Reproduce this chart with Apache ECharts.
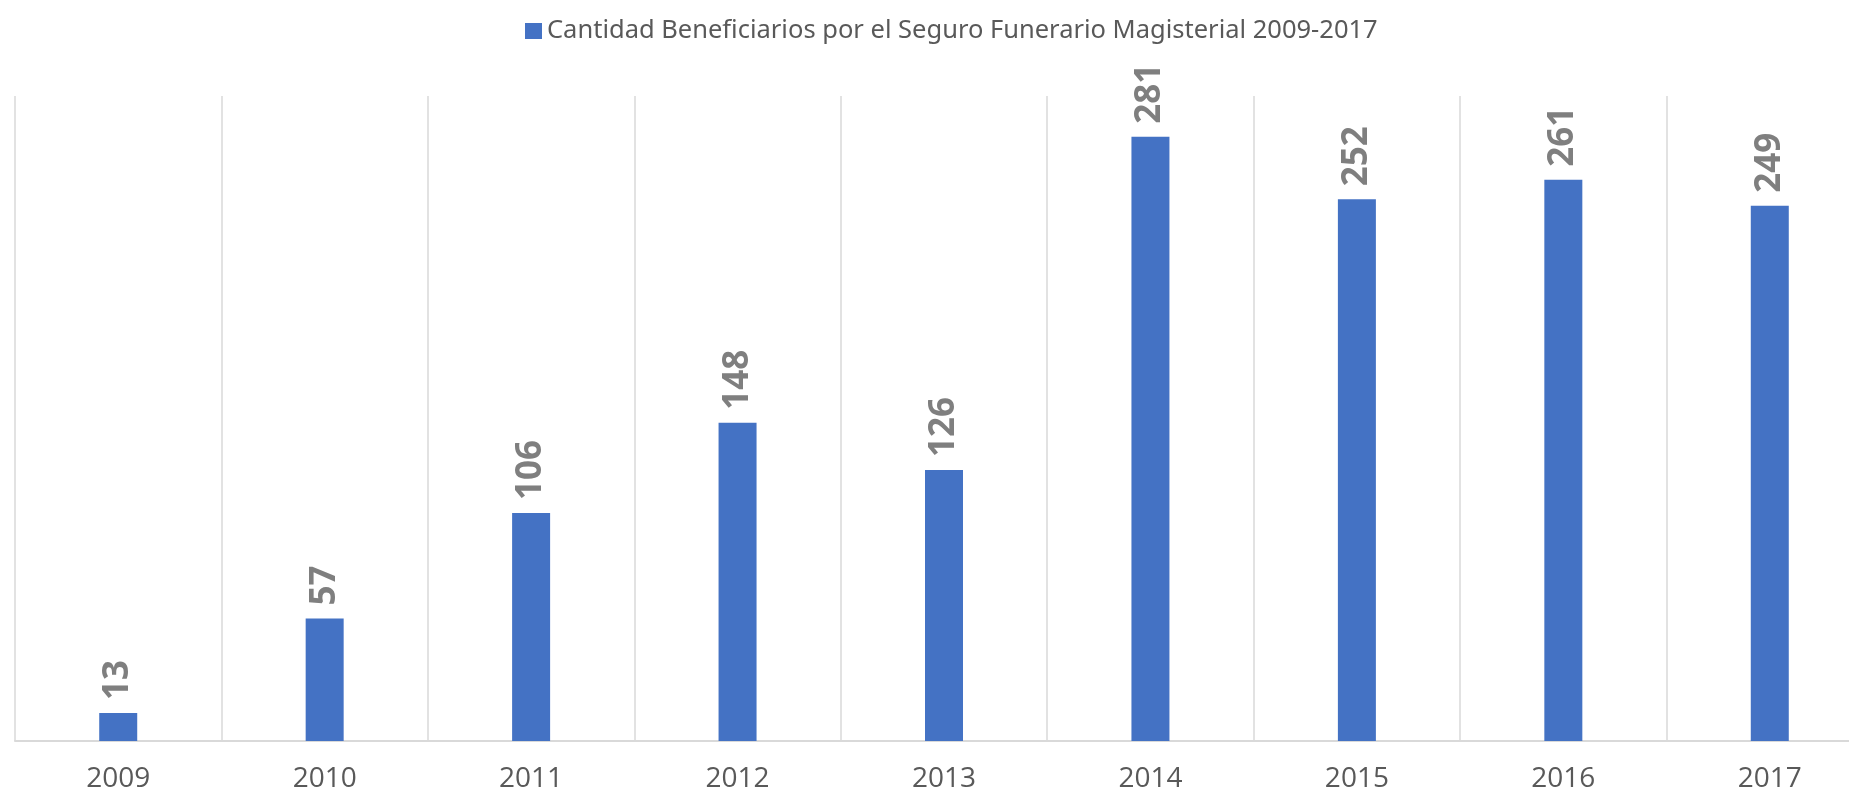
<!DOCTYPE html>
<html>
<head>
<meta charset="utf-8">
<script src="https://cdn.jsdelivr.net/npm/echarts@6/dist/echarts.min.js"></script>
<style>html,body{margin:0;padding:0;background:#fff}#c{width:1849px;height:790px}</style>
</head>
<body>
<div id="c"></div>
<script>
const categories = ['2009','2010','2011','2012','2013','2014','2015','2016','2017'];
const values = [13, 57, 106, 148, 126, 281, 252, 261, 249];
const seriesName = 'Cantidad Beneficiarios por el Seguro Funerario Magisterial 2009-2017';

const chart = echarts.init(document.getElementById('c'), null, {renderer: 'canvas'});
chart.setOption({
  animation: false,
  backgroundColor: '#ffffff',
  legend: {
    left: 520, top: 13,
    itemWidth: 17, itemHeight: 16, itemGap: 7,
    textStyle: {color: '#595959', fontSize: 25.5, fontFamily: 'Noto Sans'},
    data: [{name: seriesName, icon: 'rect'}]
  },
  grid: {left: 15, top: 96, bottom: 49, right: -24, containLabel: false, outerBoundsMode: 'none'},
  xAxis: {
    type: 'category',
    data: categories,
    boundaryGap: true,
    axisLine: {show: true, lineStyle: {color: '#d9d9d9', width: 2}},
    axisTick: {show: false},
    splitLine: {show: true, lineStyle: {color: '#d9d9d9', width: 1.5}},
    axisLabel: {color: '#595959', fontSize: 28, fontFamily: 'Open Sans', margin: 24}
  },
  yAxis: {
    type: 'value', min: 0, max: 300,
    show: true,
    axisLine: {show: false}, axisTick: {show: false}, axisLabel: {show: false},
    splitLine: {show: false}
  },
  series: [{
    name: seriesName,
    type: 'bar',
    data: values,
    barWidth: 38,
    itemStyle: {color: '#4472C4'},
    label: {
      show: true, position: 'top', rotate: 90, distance: 13,
      align: 'left', verticalAlign: 'middle',
      color: '#7f7f7f', fontSize: 35, fontWeight: 'bold', fontFamily: 'Open Sans'
    }
  }]
});
</script>
</body>
</html>
